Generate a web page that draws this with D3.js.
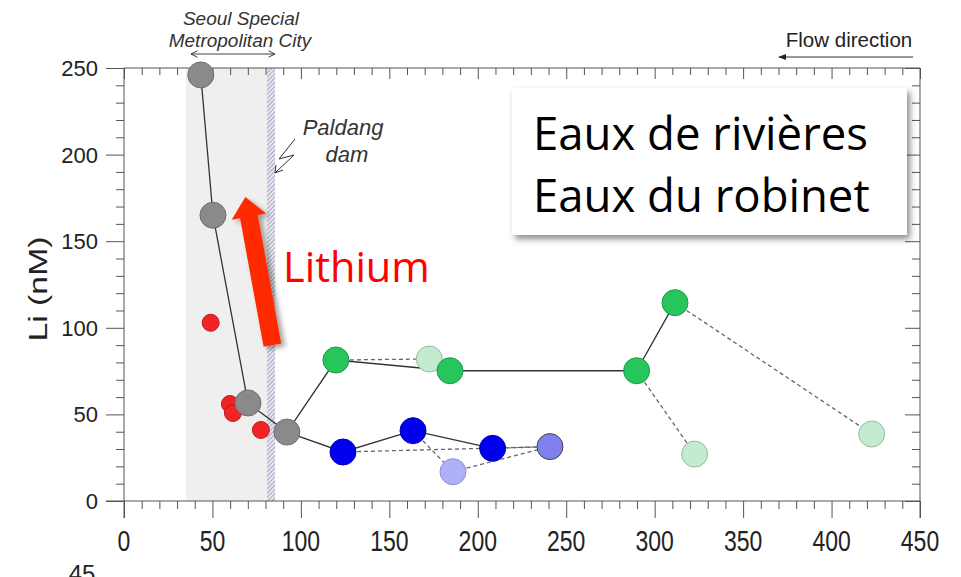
<!DOCTYPE html>
<html><head><meta charset="utf-8">
<script src="https://cdn.jsdelivr.net/npm/d3@7"></script>
<style>body{margin:0;background:#fff;overflow:hidden}</style>
</head><body>
<svg id="c" width="961" height="577"></svg>
<script>
// ---- data (distance km, Li nM) ----
const grayX = [43.4, 50.3, 70.1, 92.1];
const grayY = [246, 165, 56.6, 39.8];
const blueX = [123.8, 163.4, 208.4];
const blueY = [28.3, 40.6, 30.4];
const lightBlueX = [186, 240.8];
const lightBlueY = [16.9, 31.4];
const greenX = [119.8, 184.3, 289.8, 311.5];
const greenY = [81.4, 75.2, 75.2, 114.5];
const lightGreenX = [172.6, 322.6, 422.7];
const lightGreenY = [82, 27.1, 38.7];
const redX = [49, 59.9, 61.6, 77.4];
const redY = [102.9, 56, 50.8, 41];
const xTicks = [0, 50, 100, 150, 200, 250, 300, 350, 400, 450];
const yTicks = [0, 50, 100, 150, 200, 250];
const cityRange = [35, 80.8];
const damRange = [80.8, 85.4];
const legendLines = ["Eaux de rivières", "Eaux du robinet"];

(function () {
const svg = d3.select("#c");
const x = d3.scaleLinear([0, 450], [124, 920]);
const y = d3.scaleLinear([0, 250], [501, 68]);

const defs = svg.append("defs");
const pat = defs.append("pattern").attr("id", "hatch").attr("patternUnits", "userSpaceOnUse")
  .attr("width", 3).attr("height", 3).attr("patternTransform", "rotate(45)");
pat.append("rect").attr("width", 3).attr("height", 3).attr("fill", "#e6e6ee");
pat.append("line").attr("x1", 0).attr("y1", 0).attr("x2", 0).attr("y2", 3).attr("stroke", "#8f8fb0").attr("stroke-width", 1.4);
const sh = defs.append("filter").attr("id", "shadow").attr("x", "-10%").attr("y", "-10%").attr("width", "130%").attr("height", "140%");
sh.append("feDropShadow").attr("dx", 3).attr("dy", 4).attr("stdDeviation", 3).attr("flood-color", "#000").attr("flood-opacity", 0.45);
const sh2 = defs.append("filter").attr("id", "ashadow").attr("x", "-30%").attr("y", "-10%").attr("width", "180%").attr("height", "130%");
sh2.append("feDropShadow").attr("dx", 4).attr("dy", 3).attr("stdDeviation", 2.5).attr("flood-color", "#000").attr("flood-opacity", 0.35);
const mk = (id, path, fill) => defs.append("marker").attr("id", id).attr("viewBox", "0 0 10 10")
  .attr("refX", 9).attr("refY", 5).attr("markerWidth", 8).attr("markerHeight", 8).attr("orient", "auto-start-reverse")
  .append("path").attr("d", path).attr("fill", fill).attr("stroke", "#333").attr("stroke-width", fill === "none" ? 1.2 : 0);
mk("open", "M1,1 L9,5 L1,9", "none");
mk("solidArr", "M0,1 L10,5 L0,9 Z", "#222");

// shaded city region & dam hatch
svg.append("rect").attr("x", x(cityRange[0])).attr("y", y(250)).attr("width", x(cityRange[1]) - x(cityRange[0]))
  .attr("height", y(0) - y(250)).attr("fill", "#efefef");
svg.append("rect").attr("x", x(damRange[0])).attr("y", y(250)).attr("width", x(damRange[1]) - x(damRange[0]))
  .attr("height", y(0) - y(250)).attr("fill", "url(#hatch)");

// axes
const ax = "#555";
const t10x = d3.range(0, 451, 10), t10y = d3.range(0, 251, 10);
const gBottom = svg.append("g").attr("transform", `translate(0,${y(0)})`)
  .call(d3.axisBottom(x).tickValues(t10x).tickFormat("").tickSizeOuter(0));
gBottom.selectAll(".tick line").attr("y2", d => d % 50 === 0 ? 17 : 8);
const gTop = svg.append("g").attr("transform", `translate(0,${y(250)})`)
  .call(d3.axisBottom(x).tickValues(t10x).tickFormat("").tickSizeOuter(0));
gTop.selectAll(".tick line").attr("y2", d => d % 50 === 0 ? 11 : 7);
const gLeft = svg.append("g").attr("transform", `translate(${x(0)},0)`)
  .call(d3.axisLeft(y).tickValues(t10y).tickFormat("").tickSizeOuter(0));
gLeft.selectAll(".tick line").attr("x2", d => d % 50 === 0 ? -18 : -8);
const gRight = svg.append("g").attr("transform", `translate(${x(450)},0)`)
  .call(d3.axisLeft(y).tickValues(t10y).tickFormat("").tickSizeOuter(0));
gRight.selectAll(".tick line").attr("x2", d => d % 50 === 0 ? -15 : -8);
svg.selectAll(".domain").remove();
svg.selectAll(".tick line").attr("stroke", ax).attr("stroke-width", 1);
// frame lines (axes extend past the corner)
svg.append("line").attr("x1", x(0) - 18).attr("x2", x(450)).attr("y1", y(0)).attr("y2", y(0)).attr("stroke", ax);
svg.append("line").attr("x1", x(0)).attr("x2", x(0)).attr("y1", y(250)).attr("y2", y(0) + 17).attr("stroke", ax);
svg.append("line").attr("x1", x(0)).attr("x2", x(450)).attr("y1", y(250)).attr("y2", y(250)).attr("stroke", ax);
svg.append("line").attr("x1", x(450)).attr("x2", x(450)).attr("y1", y(250)).attr("y2", y(0) + 17).attr("stroke", ax);

// tick labels
const lf = "'Liberation Sans', Arial, sans-serif";
svg.append("g").selectAll("text").data(yTicks).join("text")
  .attr("x", x(0) - 26).attr("y", d => y(d)).attr("dy", "0.36em").attr("text-anchor", "end")
  .attr("font-family", lf).attr("font-size", 22).attr("fill", "#222").text(d => d);
svg.append("g").selectAll("text").data(xTicks).join("text")
  .attr("transform", d => `translate(${x(d)},551) scale(1,1.3)`).attr("text-anchor", "middle")
  .attr("font-family", lf).attr("font-size", 23).attr("fill", "#222").text(d => d);
svg.append("text").attr("transform", `translate(47,289) rotate(-90) scale(1.3,1)`).attr("text-anchor", "middle")
  .attr("font-family", lf).attr("font-size", 26).attr("fill", "#222").text("Li (nM)");
svg.append("text").attr("x", 82).attr("y", 582).attr("text-anchor", "middle")
  .attr("font-family", lf).attr("font-size", 24).attr("fill", "#222").text("45");

// connections
const P = {
  g: grayX.map((v, i) => [v, grayY[i]]),
  b: blueX.map((v, i) => [v, blueY[i]]),
  lb: lightBlueX.map((v, i) => [v, lightBlueY[i]]),
  gr: greenX.map((v, i) => [v, greenY[i]]),
  lg: lightGreenX.map((v, i) => [v, lightGreenY[i]]),
  r: redX.map((v, i) => [v, redY[i]])
};
const line = d3.line().x(d => x(d[0])).y(d => y(d[1]));
const dashed = [[P.b[0], P.lb[1]], [P.b[1], P.lb[0]], [P.lb[0], P.lb[1]], [P.b[2], P.lb[1]],
  [P.gr[0], P.lg[0]], [P.gr[2], P.lg[1]], [P.gr[3], P.lg[2]]];
svg.append("g").selectAll("path").data(dashed).join("path").attr("d", line)
  .attr("fill", "none").attr("stroke", "#666").attr("stroke-width", 1.3).attr("stroke-dasharray", "4,3");
const solid = [[...P.g, ...P.b], [P.g[3], ...P.gr]];
svg.append("g").selectAll("path").data(solid).join("path").attr("d", line)
  .attr("fill", "none").attr("stroke", "#333").attr("stroke-width", 1.3);

// points
function dots(pts, r, fill, stroke) {
  svg.append("g").selectAll("circle").data(pts).join("circle")
    .attr("cx", d => x(d[0])).attr("cy", d => y(d[1])).attr("r", r)
    .attr("fill", fill).attr("stroke", stroke).attr("stroke-width", 1);
}
dots(P.lg, 13, "#c3ebd0", "#9ab8a4");
dots([P.lb[0]], 13, "#b0b0f8", "#9090c8");
dots([P.lb[1]], 13, "#7f7ff0", "#444");
dots(P.gr, 13, "#27c65c", "#1d9a47");
dots(P.b, 13, "#0000ee", "#0000b0");
dots(P.r, 8.5, "#f02424", "#c01818");
dots(P.g, 13, "#8a8a8a", "#6e6e6e");

// red arrow
const a0 = [x(83.9), y(90)], a1 = [x(68.6), y(175.5)];
const ang = Math.atan2(a1[1] - a0[1], a1[0] - a0[0]);
const L = Math.hypot(a1[0] - a0[0], a1[1] - a0[1]);
const sw = 9, hw = 17.5, hl = 20;
const loc = [[0, -sw], [L - hl, -sw], [L - hl, -hw], [L, 0], [L - hl, hw], [L - hl, sw], [0, sw]];
const pts = loc.map(([u, v]) => [a0[0] + u * Math.cos(ang) - v * Math.sin(ang), a0[1] + u * Math.sin(ang) + v * Math.cos(ang)]);
svg.append("polygon").attr("points", pts.map(p => p.join(",")).join(" ")).attr("fill", "#ff2a00").attr("filter", "url(#ashadow)");

// annotations
const itf = "'Liberation Sans', Arial, sans-serif";
svg.append("text").attr("x", 241).attr("y", 25).attr("text-anchor", "middle").attr("font-family", itf)
  .attr("font-style", "italic").attr("font-size", 19).attr("fill", "#333").text("Seoul Special");
svg.append("text").attr("x", 240).attr("y", 47).attr("text-anchor", "middle").attr("font-family", itf)
  .attr("font-style", "italic").attr("font-size", 19).attr("fill", "#333").text("Metropolitan City");
svg.append("line").attr("x1", 191).attr("x2", 275).attr("y1", 54).attr("y2", 54).attr("stroke", "#444").attr("stroke-width", 1)
  .attr("marker-start", "url(#open)").attr("marker-end", "url(#open)");
svg.append("text").attr("x", 849).attr("y", 47).attr("text-anchor", "middle").attr("font-family", itf)
  .attr("font-size", 20.5).attr("fill", "#222").text("Flow direction");
svg.append("line").attr("x1", 913).attr("x2", 779).attr("y1", 57).attr("y2", 57).attr("stroke", "#333").attr("stroke-width", 1)
  .attr("marker-end", "url(#solidArr)");
svg.append("text").attr("x", 343).attr("y", 135).attr("text-anchor", "middle").attr("font-family", itf)
  .attr("font-style", "italic").attr("font-size", 22).attr("fill", "#333").text("Paldang");
svg.append("text").attr("x", 347).attr("y", 162).attr("text-anchor", "middle").attr("font-family", itf)
  .attr("font-style", "italic").attr("font-size", 22).attr("fill", "#333").text("dam");
svg.append("path").attr("d", "M295,139 L279,159 L294,155 L276,172").attr("fill", "none").attr("stroke", "#333").attr("stroke-width", 1);
svg.append("path").attr("d", "M276,165 L275,173 L283,170").attr("fill", "none").attr("stroke", "#333").attr("stroke-width", 1);

svg.append("text").attr("x", 283).attr("y", 282).attr("font-family", "'Open Sans', Lato, sans-serif")
  .attr("font-size", 41.5).attr("fill", "#ff0000").text("Lithium");

// legend box
svg.append("rect").attr("x", 512).attr("y", 88).attr("width", 395).attr("height", 147).attr("fill", "#fff").attr("filter", "url(#shadow)");
svg.append("g").selectAll("text").data(legendLines).join("text")
  .attr("x", 533).attr("y", (d, i) => 150 + i * 62).attr("font-family", "'Open Sans', Lato, sans-serif")
  .attr("font-size", 45.5).attr("fill", "#000").text(d => d);
})();
</script>
</body></html>
